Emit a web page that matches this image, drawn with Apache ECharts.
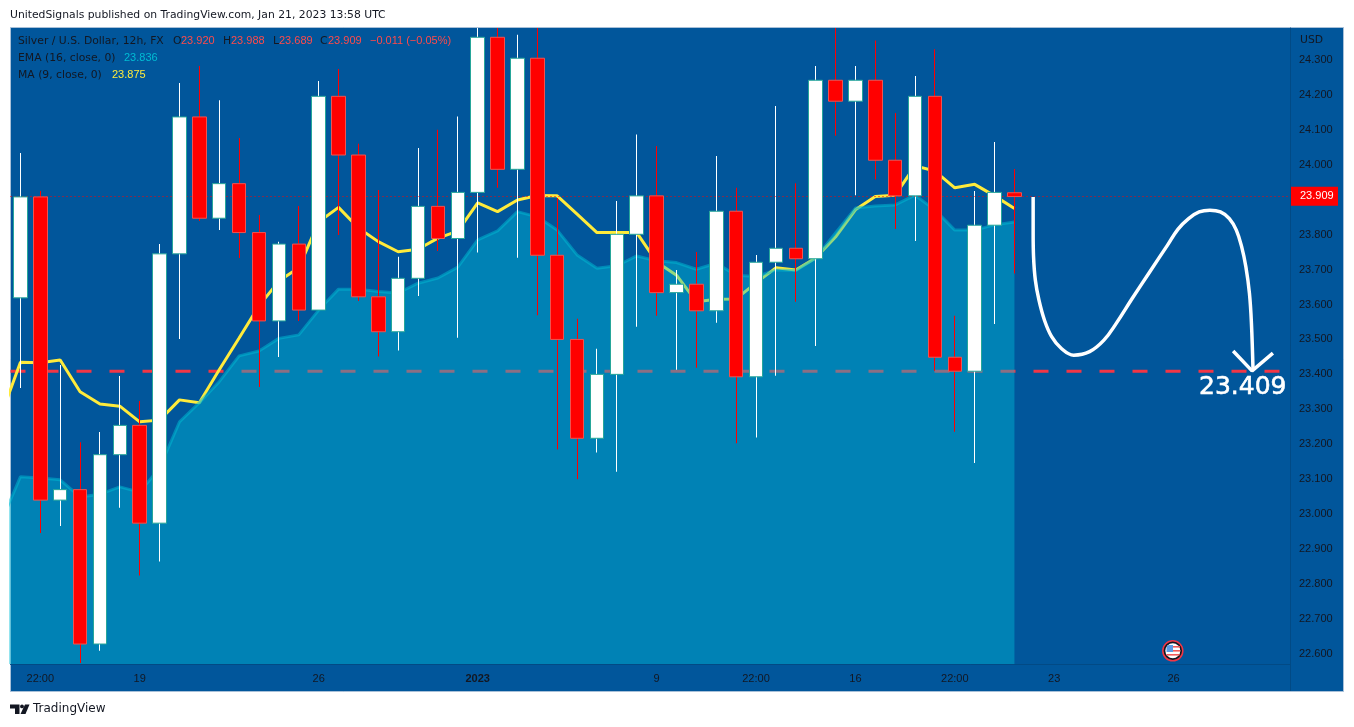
<!DOCTYPE html>
<html>
<head>
<meta charset="utf-8">
<style>html,body{margin:0;padding:0;background:#fff}#main{width:1354px;height:727px}</style>
<script src="https://cdn.jsdelivr.net/npm/echarts@6/dist/echarts.min.js"></script>
</head>
<body>
<div id="main"></div>
<script>
var opens = [23.619,23.908,23.040,23.070,22.628,23.170,23.254,22.974,23.745,24.137,23.847,23.946,23.806,23.553,23.773,23.584,24.196,24.028,23.622,23.522,23.675,23.881,23.789,23.921,24.365,23.987,24.305,23.741,23.500,23.217,23.400,23.801,23.911,23.634,23.658,23.582,23.867,23.393,23.721,23.761,23.731,24.242,24.182,24.242,24.013,23.911,24.196,23.449,23.409,23.827,23.920];
var closes = [23.908,23.040,23.070,22.628,23.170,23.254,22.974,23.745,24.137,23.847,23.946,23.806,23.553,23.773,23.584,24.196,24.028,23.622,23.522,23.675,23.881,23.789,23.921,24.365,23.987,24.305,23.741,23.500,23.217,23.400,23.801,23.911,23.634,23.658,23.582,23.867,23.393,23.721,23.761,23.731,24.242,24.182,24.242,24.013,23.911,24.196,23.449,23.409,23.827,23.921,23.909];
var lows = [23.361,22.946,22.966,22.574,22.609,23.018,22.824,22.864,23.501,23.839,23.813,23.733,23.364,23.450,23.553,23.584,23.799,23.610,23.451,23.468,23.624,23.753,23.505,23.749,23.934,23.734,23.569,23.185,23.100,23.176,23.121,23.536,23.568,23.413,23.419,23.548,23.203,23.219,23.396,23.608,23.481,24.083,23.913,23.958,23.816,23.782,23.410,23.236,23.146,23.544,23.689];
var highs = [24.034,23.925,23.427,23.206,23.235,23.395,23.324,23.773,24.234,24.283,24.185,24.077,23.856,23.780,23.882,24.240,24.274,24.060,23.928,23.737,24.048,24.100,24.138,24.400,24.400,24.372,24.400,23.905,23.559,23.473,23.896,24.087,24.054,23.699,23.750,24.025,23.934,23.742,24.168,23.947,24.283,24.400,24.283,24.356,24.148,24.254,24.331,23.568,23.925,24.065,23.988];
// first value of both averages is the bar before the window, it gets clipped
var maValues = [23.278,23.435,23.433,23.441,23.350,23.315,23.309,23.264,23.269,23.327,23.319,23.413,23.504,23.596,23.667,23.705,23.836,23.878,23.819,23.780,23.751,23.758,23.790,23.810,23.891,23.866,23.899,23.912,23.911,23.859,23.806,23.806,23.806,23.722,23.684,23.608,23.615,23.616,23.662,23.705,23.699,23.733,23.793,23.871,23.909,23.913,23.997,23.982,23.934,23.944,23.911,23.875];
var emaValues = [22.974,23.107,23.103,23.098,23.049,23.057,23.078,23.063,23.132,23.264,23.319,23.379,23.453,23.467,23.503,23.513,23.584,23.644,23.644,23.637,23.633,23.661,23.676,23.707,23.785,23.811,23.866,23.851,23.813,23.742,23.704,23.711,23.739,23.725,23.720,23.701,23.718,23.684,23.680,23.699,23.697,23.733,23.805,23.876,23.882,23.885,23.913,23.871,23.813,23.813,23.828,23.836];

var xTickIdx = [1,6,15,23,32,37,42,47,52,58];
var xTickLabels = ['22:00','19','26','2023','9','22:00','16','22:00','23','26'];
var yTicks = [22.6,22.7,22.8,22.9,23.0,23.1,23.2,23.3,23.4,23.5,23.6,23.7,23.8,23.9,24.0,24.1,24.2,24.3];

var lastClose = 23.909;
var targetLevel = 23.409;
var levelEndIdx = 63.33;

// hand drawn forecast, bar index / price
var curveIdx = [50.94,50.94,50.96,51.05,51.23,51.51,51.87,52.36,52.98,53.78,54.50,55.12,55.92,56.81,57.70,58.23,58.76,59.29,59.83,60.36,60.81,61.16,61.43,61.64,61.82,61.92,62.00];
var curvePrice = [23.908,23.803,23.737,23.670,23.613,23.555,23.508,23.474,23.455,23.465,23.498,23.546,23.617,23.694,23.770,23.816,23.846,23.865,23.870,23.865,23.846,23.813,23.765,23.708,23.632,23.546,23.412];
var arrowIdx = [61.0,61.95,63.0];
var arrowPrice = [23.467,23.410,23.461];

var UP = '#ffffff', DOWN = '#ff0000', UP_EDGE = '#26a69a', DOWN_EDGE = '#ef5350';
var BG = '#01569b', INK = '#131722', LABEL_RED = '#ff4a4a';
var FONT = '"DejaVu Sans", Verdana, sans-serif';
var NUM_FONT = '"Liberation Sans", Arial, sans-serif';

var wickData = opens.map(function (o, i) { return [i, lows[i], highs[i], closes[i] >= o ? 1 : 0]; });
var bodyData = opens.map(function (o, i) {
  return [i, o, closes[i], Math.min(o, closes[i]), Math.max(o, closes[i])];
});
function withIndex(vals) {
  return vals.map(function (v, i) { return [i - 1, v]; });
}
function zip(xs, ys) {
  return xs.map(function (x, i) { return [x, ys[i]]; });
}

function txt(x, y, s, color, font) {
  return {
    type: 'text', x: x, y: y, z: 50,
    style: { text: s, fill: color, font: font || ('10.8px ' + FONT), verticalAlign: 'middle' }
  };
}
function num(x, y, s, color) {
  return txt(x, y, s, color, '11px ' + NUM_FONT);
}

function renderWick(params, api) {
  var low = api.coord([api.value(0), api.value(1)]);
  var high = api.coord([api.value(0), api.value(2)]);
  return {
    type: 'rect',
    shape: { x: Math.floor(low[0]), y: high[1], width: 1, height: low[1] - high[1] },
    style: { fill: api.value(3) ? UP : DOWN }
  };
}

var graphics = [
  { type: 'rect', z: -1, shape: { x: 10.5, y: 27.5, width: 1333, height: 664 },
    style: { fill: BG, stroke: '#a8c0d8', lineWidth: 1 } },
  { type: 'line', z: 1, shape: { x1: 1290.5, y1: 664, x2: 1290.5, y2: 691 }, style: { stroke: '#024a85', lineWidth: 1 } },
  txt(10, 15, 'UnitedSignals published on TradingView.com, Jan 21, 2023 13:58 UTC', INK),
  txt(18, 41, 'Silver / U.S. Dollar, 12h, FX', INK),
  txt(173, 41, 'O', INK), num(181, 41, '23.920', LABEL_RED),
  txt(223, 41, 'H', INK), num(231, 41, '23.988', LABEL_RED),
  txt(273, 41, 'L', INK), num(279, 41, '23.689', LABEL_RED),
  txt(320, 41, 'C', INK), num(328, 41, '23.909', LABEL_RED),
  num(370, 41, '\u22120.011 (\u22120.05%)', LABEL_RED),
  txt(18, 58, 'EMA (16, close, 0)', INK), num(124, 58, '23.836', '#00bcd4'),
  txt(18, 75, 'MA (9, close, 0)', INK), num(112, 75, '23.875', '#ffeb3b'),
  txt(1300, 40, 'USD', INK),
  {
    type: 'text', x: 1199, y: 387, z: 50,
    style: { text: '23.409', fill: '#fff', stroke: '#fff', lineWidth: 0.6, font: '25px ' + FONT, verticalAlign: 'middle' }
  },
  txt(33, 709, 'TradingView', INK, '12px ' + FONT),
  // TradingView mark
  { type: 'polygon', z: 50, shape: { points: [[10,704.5],[19.5,704.5],[19.5,714],[15,714],[15,708.5],[10,708.5]] }, style: { fill: INK } },
  { type: 'circle', z: 50, shape: { cx: 22, cy: 706.4, r: 1.9 }, style: { fill: INK } },
  { type: 'polygon', z: 50, shape: { points: [[25,704.5],[29.5,704.5],[25.5,714],[20.5,714]] }, style: { fill: INK } },
  // US flag event badge
  { type: 'circle', z: 50, shape: { cx: 1172.8, cy: 650.8, r: 10 }, style: { fill: '#131722', stroke: '#f23645', lineWidth: 1.5 } },
  { type: 'circle', z: 51, shape: { cx: 1172.8, cy: 650.8, r: 7.5 }, style: { fill: '#ffffff' } },
  { type: 'rect', z: 52, shape: { x: 1173, y: 646, width: 7, height: 1.6 }, style: { fill: '#f25a5a' } },
  { type: 'rect', z: 52, shape: { x: 1173, y: 650, width: 7.4, height: 1.6 }, style: { fill: '#f25a5a' } },
  { type: 'rect', z: 52, shape: { x: 1166.5, y: 654, width: 13, height: 1.6 }, style: { fill: '#f25a5a' } },
  { type: 'rect', z: 52, shape: { x: 1166.5, y: 645, width: 6.5, height: 7, r: [3, 0, 0, 0] }, style: { fill: '#5b9be6' } }
];

var chart = echarts.init(document.getElementById('main'), null, { renderer: 'canvas' });
chart.setOption({
  animation: false,
  backgroundColor: '#ffffff',
  graphic: graphics,
  grid: { left: 10.5, right: 64, top: 28, bottom: 63 },
  xAxis: {
    type: 'value', min: -0.5, max: 63.86, splitLine: { show: false },
    axisLine: { show: true, onZero: false, lineStyle: { color: '#024a85' } },
    axisTick: { show: false },
    axisLabel: {
      customValues: xTickIdx, margin: 9, fontFamily: NUM_FONT, fontSize: 11, color: INK,
      formatter: function (v) {
        var s = xTickLabels[xTickIdx.indexOf(v)];
        return s === '2023' ? '{b|' + s + '}' : s;
      },
      rich: { b: { fontFamily: NUM_FONT, fontSize: 11, fontWeight: 'bold', color: INK } }
    }
  },
  yAxis: {
    type: 'value', position: 'right', min: 22.5708, max: 24.3916, scale: true,
    splitLine: { show: false },
    axisLine: { show: true, onZero: false, lineStyle: { color: '#024a85' } },
    axisTick: { show: false },
    axisLabel: {
      customValues: yTicks, margin: 9, fontFamily: NUM_FONT, fontSize: 11, color: INK,
      formatter: function (v) { return v.toFixed(3); }
    }
  },
  series: [
    {
      name: 'target', type: 'line', z: 1, silent: true, symbol: 'none',
      data: [[-0.5, targetLevel], [levelEndIdx, targetLevel]],
      lineStyle: { color: '#f23645', width: 3, type: [15, 18] },
      markLine: {
        silent: true, symbol: 'none', animation: false,
        lineStyle: { width: 0, opacity: 0 },
        label: {
          position: 'end', distance: 1, formatter: targetLevel.toFixed(3), color: '#fff',
          backgroundColor: '#f23645', fontFamily: NUM_FONT, fontSize: 11,
          padding: [4, 5, 4, 9], width: 33
        },
        data: [{ yAxis: targetLevel }]
      }
    },
    {
      name: 'MA (9, close, 0)', type: 'line', z: 2, silent: true, symbol: 'none',
      data: withIndex(maValues),
      lineStyle: { color: '#ffeb3b', width: 3 }
    },
    {
      name: 'EMA (16, close, 0)', type: 'line', z: 3, silent: true, symbol: 'none',
      data: withIndex(emaValues),
      lineStyle: { color: 'rgba(0,188,212,0.5)', width: 3 },
      areaStyle: { origin: 'start', color: 'rgba(0,191,217,0.42)', opacity: 1 }
    },
    {
      name: 'wicks', type: 'custom', z: 4, silent: true, clip: true,
      encode: { x: 0, y: [1, 2] },
      data: wickData,
      renderItem: renderWick
    },
    {
      name: 'bodies', type: 'candlestick', z: 5, silent: true, barWidth: 14,
      encode: { x: 0, y: [1, 2, 3, 4] },
      data: bodyData,
      itemStyle: { color: UP, color0: DOWN, borderColor: UP_EDGE, borderColor0: DOWN_EDGE, borderWidth: 1 },
      markLine: {
        silent: true, symbol: 'none', animation: false,
        lineStyle: { color: '#ff0000', width: 1, type: [1, 3] },
        label: {
          position: 'end', distance: 1, formatter: lastClose.toFixed(3), color: '#fff',
          backgroundColor: '#ff0000', fontFamily: NUM_FONT, fontSize: 11,
          padding: [4, 5, 4, 9], width: 33
        },
        data: [{ yAxis: lastClose }]
      }
    },
    {
      name: 'forecast', type: 'line', z: 6, silent: true, symbol: 'none', smooth: 0.4,
      data: zip(curveIdx, curvePrice),
      lineStyle: { color: '#ffffff', width: 3.5 }
    },
    {
      name: 'arrow', type: 'line', z: 6, silent: true, symbol: 'none',
      data: zip(arrowIdx, arrowPrice),
      lineStyle: { color: '#ffffff', width: 3.5 }
    }
  ]
});
</script>
</body>
</html>
